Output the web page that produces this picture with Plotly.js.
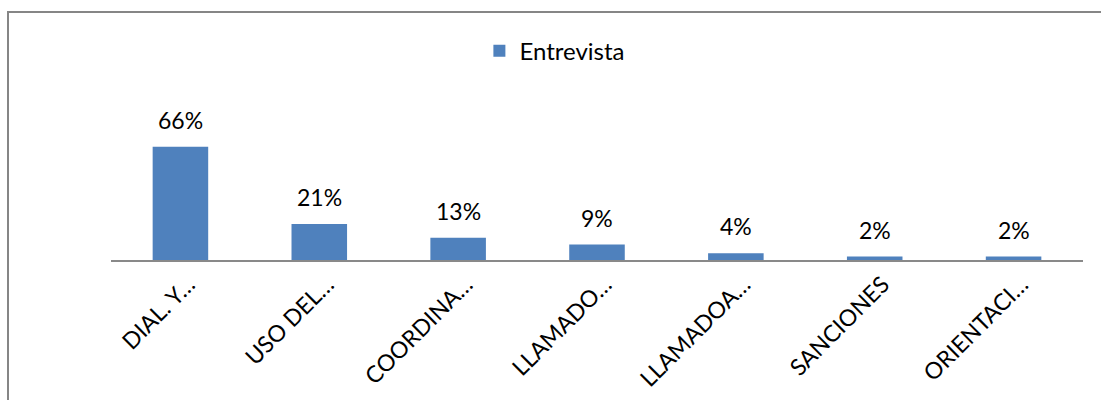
<!DOCTYPE html>
<html>
<head>
<meta charset="utf-8">
<script src="https://cdn.plot.ly/plotly-3.0.1.min.js"></script>
<style>
  html, body { margin: 0; padding: 0; background: #fff; }
  #wrap { position: relative; width: 1101px; height: 400px; overflow: hidden; }
  #frame { position: absolute; left: 7px; top: 11px; width: 1200px; height: 500px;
           border-left: 2px solid #868686; border-top: 2px solid #868686; box-sizing: border-box; }
  #chart { position: absolute; left: 0; top: 0; width: 1101px; height: 400px; }
</style>
</head>
<body>
<div id="wrap">
  <div id="frame"></div>
  <div id="chart"></div>
</div>
<script>
const categories = ["DIAL. Y…", "USO DEL…", "COORDINA…", "LLAMADO…", "LLAMADOA…", "SANCIONES", "ORIENTACI…"];
const seriesName = "Entrevista";
const values = [0.66, 0.21, 0.13, 0.09, 0.04, 0.02, 0.02];

const font = "Lato, 'Open Sans', sans-serif";

const labelAnnotations = categories.map((c, i) => ({
  x: c, y: values[i], xref: "x", yref: "y",
  text: Math.round(values[i] * 100) + "%",
  showarrow: false, yanchor: "bottom", yshift: 11,
  font: { family: font, size: 23, color: "#000" }
}));

Plotly.newPlot("chart", [{
  type: "bar",
  name: seriesName,
  x: categories,
  y: values,
  marker: { color: "#4F81BD" },
  hoverinfo: "skip"
}], {
  width: 1101,
  height: 400,
  margin: { l: 111, r: 18, t: 140, b: 140, pad: 0 },
  paper_bgcolor: "rgba(0,0,0,0)",
  plot_bgcolor: "rgba(0,0,0,0)",
  bargap: 0.6,
  showlegend: true,
  annotations: labelAnnotations,
  legend: {
    orientation: "h",
    x: 0.379, xanchor: "left",
    y: 1.74, yanchor: "middle",
    font: { family: font, size: 24, color: "#000" },
    bgcolor: "rgba(0,0,0,0)"
  },
  xaxis: {
    type: "category",
    tickangle: -45,
    ticks: "",
    showline: true,
    linecolor: "#898989",
    linewidth: 2,
    showgrid: false,
    ticklabelshift: 8,
    ticklabelstandoff: 0,
    tickfont: { family: font, size: 23, color: "#000" }
  },
  yaxis: {
    range: [0, 0.7],
    visible: false,
    showgrid: false,
    zeroline: false
  }
}, { displayModeBar: false, staticPlot: true });
</script>
</body>
</html>
